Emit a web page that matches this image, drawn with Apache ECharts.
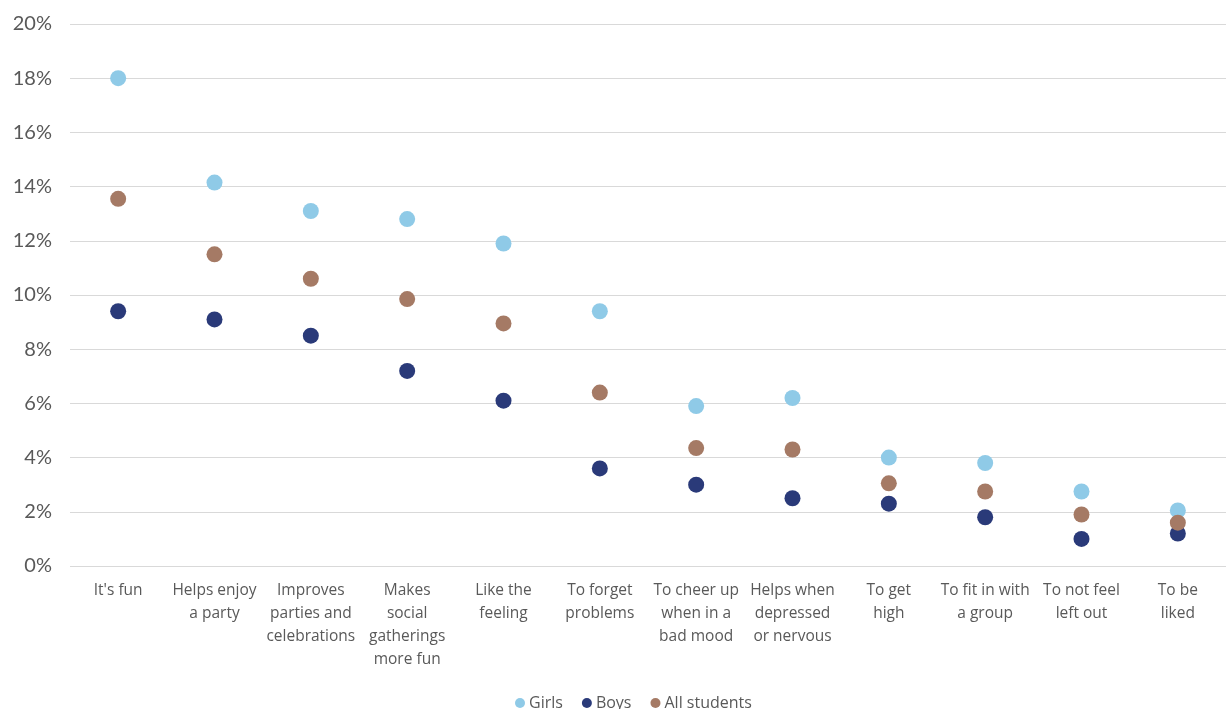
<!DOCTYPE html>
<html>
<head>
<meta charset="utf-8">
<script src="https://cdn.jsdelivr.net/npm/echarts@6/dist/echarts.min.js"></script>
<style>
  html, body { margin: 0; padding: 0; background: #fff; }
  #chart { width: 1226px; height: 709px; }
</style>
</head>
<body>
<div id="chart"></div>
<script>
// Reasons for drinking, share of students (%)
const categories = [
  "It's fun",
  "Helps enjoy\na party",
  "Improves\nparties and\ncelebrations",
  "Makes\nsocial\ngatherings\nmore fun",
  "Like the\nfeeling",
  "To forget\nproblems",
  "To cheer up\nwhen in a\nbad mood",
  "Helps when\ndepressed\nor nervous",
  "To get\nhigh",
  "To fit in with\na group",
  "To not feel\nleft out",
  "To be\nliked"
];
const girls = [18.0, 14.15, 13.1, 12.8, 11.9, 9.4, 5.9, 6.2, 4.0, 3.8, 2.75, 2.05];
const boys = [9.4, 9.1, 8.5, 7.2, 6.1, 3.6, 3.0, 2.5, 2.3, 1.8, 1.0, 1.2];
const allStudents = [13.55, 11.5, 10.6, 9.85, 8.95, 6.4, 4.35, 4.3, 3.05, 2.75, 1.9, 1.6];
const yTicks = { min: 0, max: 20, interval: 2 };

const textGray = '#595959';
const chart = echarts.init(document.getElementById('chart'), null, { renderer: 'canvas' });

function dots(name, data, color) {
  return {
    name: name,
    type: 'scatter',
    data: data,
    symbol: 'circle',
    symbolSize: 16,
    itemStyle: { color: color, opacity: 1 },
    emphasis: { disabled: true }
  };
}

chart.setOption({
  animation: false,
  grid: { left: 70, right: 0, top: 24, bottom: 143 },
  xAxis: {
    type: 'category',
    data: categories,
    boundaryGap: true,
    axisLine: { show: false },
    axisTick: { show: false },
    axisLabel: {
      interval: 0,
      color: textGray,
      fontFamily: 'Open Sans',
      fontSize: 15.5,
      lineHeight: 23,
      margin: 13,
      align: 'center'
    }
  },
  yAxis: {
    type: 'value',
    min: yTicks.min,
    max: yTicks.max,
    interval: yTicks.interval,
    axisLine: { show: false },
    axisTick: { show: false },
    splitLine: { lineStyle: { color: '#d9d9d9', width: 1 } },
    axisLabel: {
      formatter: v => v + '%',
      color: textGray,
      fontFamily: 'Lato',
      fontSize: 20,
      margin: 18
    }
  },
  legend: {
    bottom: -7,
    left: 510,
    itemWidth: 10,
    itemHeight: 10,
    itemGap: 19,
    icon: 'circle',
    textStyle: { color: textGray, fontFamily: 'Open Sans', fontSize: 16, padding: [0, 0, 0, -1] },
    data: ['Girls', 'Boys', 'All students']
  },
  series: [
    dots('Girls', girls, '#8fcae7'),
    dots('Boys', boys, '#2a3a79'),
    dots('All students', allStudents, '#a57a65')
  ]
});
</script>
</body>
</html>
